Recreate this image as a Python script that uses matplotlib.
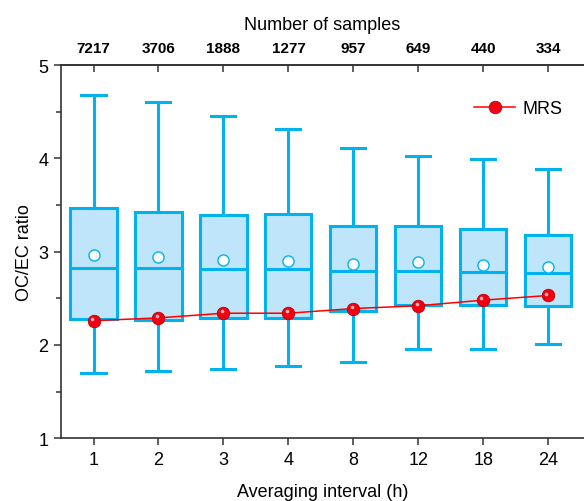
import matplotlib
matplotlib.use("Agg")
import matplotlib.pyplot as plt
import matplotlib.transforms as mtrans
import numpy as np

plt.rcParams['font.family'] = ['Liberation Sans', 'DejaVu Sans']

# data
intervals = ['1', '2', '3', '4', '8', '12', '18', '24']
n_samples = ['7217', '3706', '1888', '1277', '957', '649', '440', '334']
whis_lo = [1.70, 1.72, 1.74, 1.77, 1.82, 1.96, 1.96, 2.01]
q1 = [2.28, 2.27, 2.29, 2.29, 2.36, 2.43, 2.43, 2.42]
med = [2.82, 2.82, 2.81, 2.81, 2.79, 2.79, 2.78, 2.77]
q3 = [3.47, 3.43, 3.39, 3.40, 3.28, 3.27, 3.24, 3.18]
whis_hi = [4.68, 4.60, 4.45, 4.31, 4.11, 4.03, 3.99, 3.89]
means = [2.96, 2.94, 2.91, 2.90, 2.87, 2.89, 2.86, 2.84]
mrs = [2.26, 2.29, 2.34, 2.34, 2.39, 2.42, 2.48, 2.53]

cyan = '#00B2EE'
fill = '#BFE5FA'
spine_c = '#333333'

x = np.arange(1, len(intervals) + 1)

fig = plt.figure(figsize=(5.84, 5.02), dpi=100)
ax = fig.add_axes([0.1045, 0.125, 0.8955, 0.7435])

stats = []
for i in range(len(x)):
    stats.append(dict(whislo=whis_lo[i], q1=q1[i], med=med[i], q3=q3[i],
                      whishi=whis_hi[i], mean=means[i], fliers=[]))

ax.bxp(stats, positions=x, widths=0.71, patch_artist=True, showmeans=True,
       showfliers=False,
       boxprops=dict(facecolor=fill, edgecolor=cyan, linewidth=2.2),
       medianprops=dict(color=cyan, linewidth=2.2),
       whiskerprops=dict(color=cyan, linewidth=2.2),
       capprops=dict(color=cyan, linewidth=2.2),
       capwidths=0.37,
       meanprops=dict(marker='o', markerfacecolor='white',
                      markeredgecolor=cyan, markersize=8, markeredgewidth=1.0),
       zorder=2)

line, = ax.plot(x, mrs, '-', color='#FF0000', lw=1.1, marker='o',
                markersize=9, markerfacecolor='#F00010',
                markeredgecolor='#C00000', markeredgewidth=0.6,
                label='MRS', zorder=4)
# small highlight to mimic the glossy sphere markers
hl = mtrans.offset_copy(ax.transData, fig=fig, x=-1.3, y=1.3, units='points')
ax.plot(x, mrs, 'o', color='#FFC8C8', markersize=2.6, markeredgewidth=0,
        transform=hl, zorder=5, alpha=0.9)

ax.set_xlim(0.5, 8.55)
ax.set_ylim(1, 5)
ax.set_xticks(x)
ax.set_xticklabels(intervals)
ax.set_yticks([1, 2, 3, 4, 5])
ax.set_yticks(np.arange(1.5, 5, 1.0), minor=True)

for s in ['left', 'bottom', 'top']:
    ax.spines[s].set_color(spine_c)
    ax.spines[s].set_linewidth(1.2)
ax.spines['right'].set_visible(False)

ax.tick_params(axis='both', which='major', labelsize=13, color=spine_c,
               direction='out', length=5, width=1.1, pad=4)
ax.tick_params(axis='y', which='minor', direction='out', length=3.5,
               width=1.1, color=spine_c)
ax.set_xlabel('Averaging interval (h)', fontsize=13, labelpad=11)
ax.set_ylabel('OC/EC ratio', fontsize=13, labelpad=4)

top = ax.secondary_xaxis('top')
top.set_xticks(x)
top.set_xticklabels(n_samples, fontweight='bold', fontsize=11)
top.tick_params(direction='in', length=5, width=1.1, color=spine_c, pad=7)
top.spines['top'].set_color(spine_c)
top.spines['top'].set_linewidth(1.2)
top.set_xlabel('Number of samples', fontsize=13, labelpad=9)

ax.legend(handles=[line], loc='upper right', bbox_to_anchor=(0.99, 0.95),
          frameon=False, fontsize=13, handlelength=2.3, handletextpad=0.4)

fig.savefig('out.png', dpi=100)
